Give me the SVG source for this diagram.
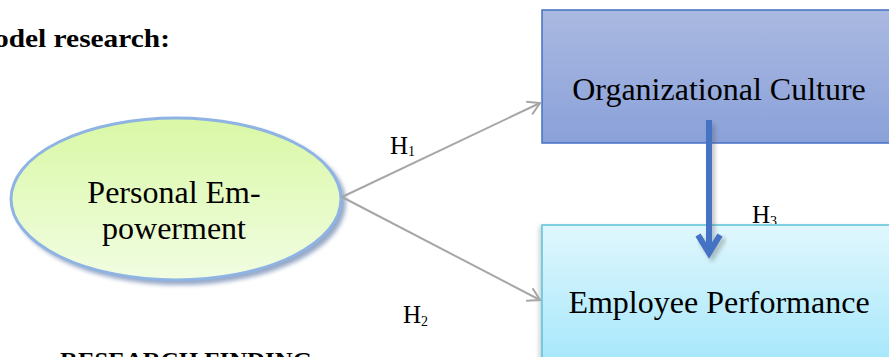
<svg xmlns="http://www.w3.org/2000/svg" width="889" height="357" viewBox="0 0 889 357">
<style>
.lbl{font-family:"Liberation Serif","Times New Roman",serif;fill:#000}
.big{font-size:32px}
.h{font-size:25px}
.sub{font-size:14px}
.bold{font-family:"Liberation Serif","Times New Roman",serif;font-weight:bold;fill:#000}
.conn{stroke:#a6a6a6;stroke-width:2;fill:none}
</style>
<defs>
<linearGradient id="gEll" x1="0" y1="0" x2="0" y2="1">
<stop offset="0" stop-color="#d9f8a5"/>
<stop offset="1" stop-color="#f1fde2"/>
</linearGradient>
<linearGradient id="gOrg" x1="0" y1="0" x2="0" y2="1">
<stop offset="0" stop-color="#aab9e1"/>
<stop offset="1" stop-color="#8aa1d9"/>
</linearGradient>
<linearGradient id="gEmp" x1="0" y1="0" x2="0" y2="1">
<stop offset="0" stop-color="#e0f7fd"/>
<stop offset="1" stop-color="#a5e7fb"/>
</linearGradient>
<filter id="blur" x="-10%" y="-10%" width="120%" height="130%">
<feGaussianBlur stdDeviation="2"/>
</filter>
<marker id="openArrow" markerWidth="16" markerHeight="16" refX="14" refY="8" orient="auto" markerUnits="userSpaceOnUse">
<path d="M2,1 L14,8 L2,15" fill="none" stroke="#a6a6a6" stroke-width="2"/>
</marker>
<clipPath id="clipH2"><rect x="380" y="290" width="60" height="36"/></clipPath>
<clipPath id="clipH3"><rect x="740" y="190" width="60" height="34"/></clipPath>
</defs>
<rect width="889" height="357" fill="#ffffff"/>
<text class="bold" x="-6" y="47" font-size="25" textLength="176" lengthAdjust="spacingAndGlyphs">odel research:</text>
<text class="bold" x="60" y="368" font-size="24" textLength="252" lengthAdjust="spacingAndGlyphs">RESEARCH FINDING</text>

<g id="node-personal-empowerment">
<ellipse cx="180" cy="203" rx="166" ry="82" fill="#7d93b8" opacity="0.8" filter="url(#blur)"/>
<ellipse cx="176" cy="199" rx="165" ry="81" fill="url(#gEll)" stroke="#8fb4e3" stroke-width="3"/>
<text class="lbl big" x="174" y="203" text-anchor="middle">Personal Em-</text>
<text class="lbl big" x="174" y="239" text-anchor="middle">powerment</text>
</g>

<g id="node-organizational-culture">
<rect x="542" y="10" width="360" height="133" fill="url(#gOrg)" stroke="#4472c4" stroke-width="1.5"/>
<text class="lbl big" x="719" y="100" text-anchor="middle">Organizational Culture</text>
</g>

<g id="node-employee-performance">
<rect x="539" y="226" width="360" height="140" fill="#9aa8b0" opacity="0.5" filter="url(#blur)"/>
<rect x="542" y="225" width="360" height="140" fill="url(#gEmp)" stroke="#5cc2da" stroke-width="1.5"/>
<text class="lbl big" x="719" y="313" text-anchor="middle">Employee Performance</text>
</g>

<g id="connectors">
<line class="conn" x1="342" y1="197" x2="540" y2="103" marker-end="url(#openArrow)"/>
<line class="conn" x1="342" y1="197" x2="540" y2="300" marker-end="url(#openArrow)"/>
<text class="lbl" x="390" y="154"><tspan class="h" font-size="22">H</tspan><tspan class="sub" dy="2">1</tspan></text>
<g clip-path="url(#clipH2)">
<text class="lbl" x="403" y="323"><tspan class="h">H</tspan><tspan class="sub" dy="3">2</tspan></text>
</g>
<g clip-path="url(#clipH3)">
<text class="lbl" x="752" y="223"><tspan class="h">H</tspan><tspan class="sub" dy="3">3</tspan></text>
</g>
<g opacity="0.35" filter="url(#blur)">
<path d="M712,124 L712,254" stroke="#555" stroke-width="6" fill="none"/>
<path d="M700,238 L712,257 L724,238" stroke="#555" stroke-width="6" fill="none"/>
</g>
<path d="M709,120 L709,252" stroke="#4472c4" stroke-width="6" fill="none"/>
<path d="M698,235 L709,253 L720,235" stroke="#4472c4" stroke-width="6" fill="none" stroke-linejoin="miter"/>
</g>
</svg>
